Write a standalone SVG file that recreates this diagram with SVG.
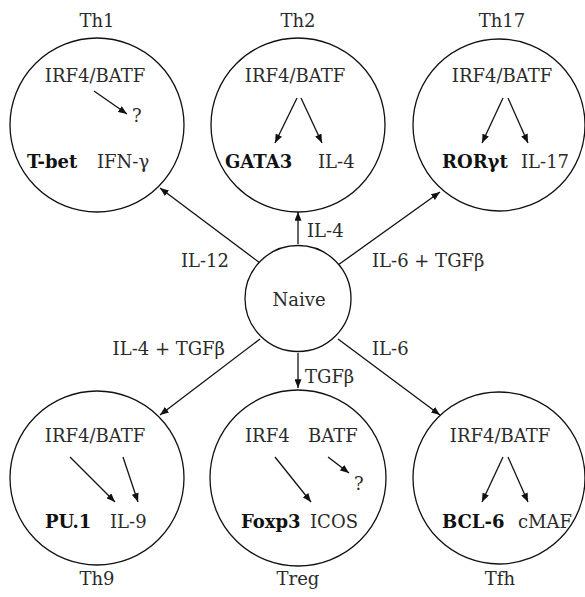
<svg xmlns="http://www.w3.org/2000/svg" width="585" height="597" viewBox="0 0 585 597">
  <defs>
    <marker id="arrow" viewBox="0 0 10 8" refX="10" refY="4" markerWidth="9" markerHeight="7" markerUnits="userSpaceOnUse" orient="auto">
      <path d="M0,0 L10,4 L0,8 z" fill="#111"/>
    </marker>
    <style>
      text { font-family: 'DejaVu Serif', 'Liberation Serif', serif; font-size: 18px; fill: #2a2a2a; }
      .b { font-weight: bold; fill: #111; }
      .c { text-anchor: middle; }
      .cell { fill: #fff; stroke: #111; stroke-width: 1.3; }
      .ln { stroke: #111; stroke-width: 1.3; fill: none; marker-end: url(#arrow); }
    </style>
  </defs>
  <rect width="585" height="597" fill="#fff"/>

  <g font-family="DejaVu Serif, Liberation Serif, serif">
  <!-- differentiation pathways from the naive cell -->
  <g id="connectors">
    <line class="ln" x1="298" y1="244" x2="298" y2="212"/>
    <line class="ln" x1="260" y1="263" x2="160" y2="188"/>
    <line class="ln" x1="338" y1="265" x2="440" y2="192"/>
    <line class="ln" x1="260" y1="339" x2="160" y2="415"/>
    <line class="ln" x1="298" y1="353" x2="298" y2="388"/>
    <line class="ln" x1="338" y1="339" x2="440" y2="415"/>
    <text x="307" y="237">IL-4</text>
    <text x="229" y="267" text-anchor="end">IL-12</text>
    <text x="372" y="267">IL-6 + TGFβ</text>
    <text x="225" y="355" text-anchor="end">IL-4 + TGFβ</text>
    <text x="305" y="383">TGFβ</text>
    <text x="372" y="355">IL-6</text>
  </g>

  <g id="naive">
    <circle class="cell" cx="298" cy="298.5" r="53"/>
    <text class="c" x="299" y="306">Naive</text>
  </g>

  <g id="th1">
    <text class="c" x="97" y="27">Th1</text>
    <circle class="cell" cx="97" cy="125" r="87"/>
    <text class="c" x="95" y="82">IRF4/BATF</text>
    <line class="ln" x1="94" y1="91" x2="127" y2="114"/>
    <text x="132" y="122">?</text>
    <text class="b" x="27" y="168">T-bet</text>
    <text x="97" y="168">IFN-γ</text>
  </g>

  <g id="th2">
    <text class="c" x="298" y="27">Th2</text>
    <circle class="cell" cx="298" cy="125" r="87"/>
    <text class="c" x="295" y="82">IRF4/BATF</text>
    <line class="ln" x1="297" y1="98" x2="275" y2="143"/>
    <line class="ln" x1="301" y1="98" x2="322" y2="143"/>
    <text class="b" x="225" y="168">GATA3</text>
    <text x="318" y="168">IL-4</text>
  </g>

  <g id="th17">
    <text class="c" x="502" y="27">Th17</text>
    <circle class="cell" cx="499" cy="125" r="86"/>
    <text class="c" x="502" y="82">IRF4/BATF</text>
    <line class="ln" x1="503" y1="98" x2="482" y2="143"/>
    <line class="ln" x1="508" y1="98" x2="528" y2="143"/>
    <text class="b" x="442" y="168">RORγt</text>
    <text x="521" y="168">IL-17</text>
  </g>

  <g id="th9">
    <circle class="cell" cx="97" cy="478" r="87"/>
    <text class="c" x="95" y="442">IRF4/BATF</text>
    <line class="ln" x1="70" y1="457" x2="115" y2="502"/>
    <line class="ln" x1="123" y1="457" x2="138" y2="502"/>
    <text class="b" x="45" y="528">PU.1</text>
    <text x="110" y="528">IL-9</text>
    <text class="c" x="97" y="585">Th9</text>
  </g>

  <g id="treg">
    <circle class="cell" cx="298" cy="478" r="88"/>
    <text x="245" y="442">IRF4</text>
    <text x="308" y="442">BATF</text>
    <line class="ln" x1="275" y1="457" x2="311" y2="502"/>
    <line class="ln" x1="328" y1="457" x2="349" y2="473"/>
    <text x="354" y="490">?</text>
    <text class="b" x="241" y="528">Foxp3</text>
    <text x="310" y="528">ICOS</text>
    <text class="c" x="298" y="585">Treg</text>
  </g>

  <g id="tfh">
    <circle class="cell" cx="499" cy="478" r="86"/>
    <text class="c" x="500" y="442">IRF4/BATF</text>
    <line class="ln" x1="503" y1="457" x2="482" y2="502"/>
    <line class="ln" x1="508" y1="457" x2="528" y2="502"/>
    <text class="b" x="442" y="528">BCL-6</text>
    <text x="518" y="528">cMAF</text>
    <text class="c" x="500" y="585">Tfh</text>
  </g>
  </g>
</svg>
